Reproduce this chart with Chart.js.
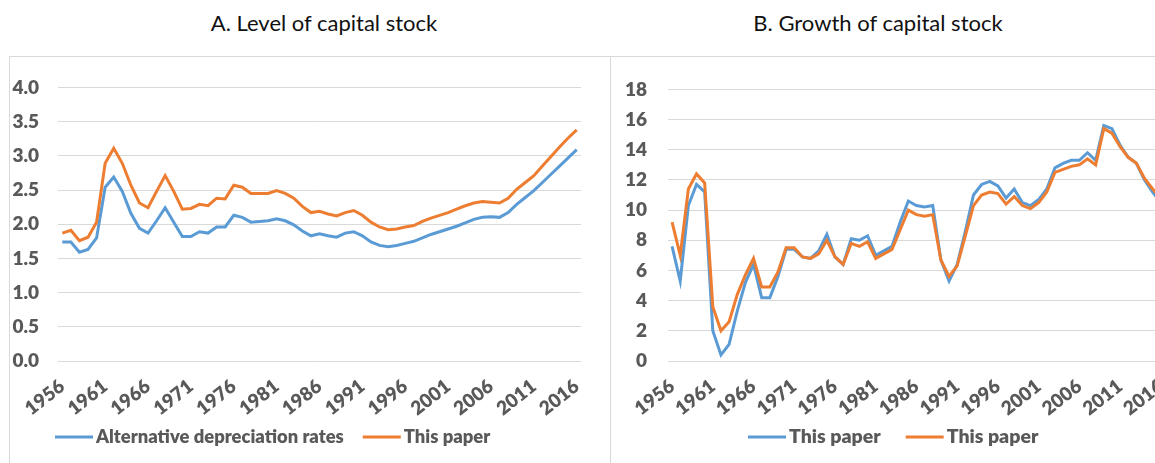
<!DOCTYPE html>
<html>
<head>
<meta charset="utf-8">
<script src="https://cdn.jsdelivr.net/npm/chart.js@4.4.1/dist/chart.umd.min.js"></script>
<style>
  html, body { margin: 0; padding: 0; background: #fff; }
  body { width: 1155px; height: 463px; overflow: hidden; position: relative; font-family: Lato, sans-serif; }
  .title { position: absolute; top: 9px; font-size: 22px; color: #111; text-align: center; white-space: nowrap; }
  .panel { position: absolute; top: 56px; height: 420px; border-top: 1px solid #d9d9d9; border-left: 1px solid #d9d9d9; }
  canvas { position: absolute; }
</style>
</head>
<body>
<div class="title" style="left:124px;width:400px">A. Level of capital stock</div>
<div class="title" style="left:678px;width:400px">B. Growth of capital stock</div>
<div class="panel" style="left:9px;width:601px"></div>
<div class="panel" style="left:610px;width:600px"></div>
<canvas id="levelChart" style="left:10px;top:57px"></canvas>
<canvas id="growthChart" style="left:611px;top:57px"></canvas>
<script>
const years = Array.from({ length: 61 }, (_, i) => String(1956 + i));

// Panel A: level of capital stock
const levelAlt = [
  1.74, 1.74, 1.59, 1.63, 1.80, 2.54, 2.69, 2.48, 2.16, 1.94,
  1.87, 2.05, 2.24, 2.03, 1.82, 1.82, 1.89, 1.87, 1.96, 1.96,
  2.13, 2.10, 2.03, 2.04, 2.05, 2.08, 2.05, 1.99, 1.90, 1.83,
  1.86, 1.83, 1.81, 1.87, 1.89, 1.83, 1.74, 1.69, 1.67, 1.69,
  1.72, 1.75, 1.80, 1.85, 1.89, 1.93, 1.97, 2.02, 2.07, 2.10,
  2.11, 2.10, 2.17, 2.29, 2.39, 2.49, 2.61, 2.73, 2.85, 2.97,
  3.09
];
const levelPaper = [
  1.87, 1.91, 1.76, 1.81, 2.03, 2.89, 3.11, 2.89, 2.57, 2.31,
  2.24, 2.48, 2.71, 2.48, 2.22, 2.23, 2.29, 2.27, 2.38, 2.37,
  2.57, 2.54, 2.45, 2.45, 2.45, 2.49, 2.45, 2.38, 2.26, 2.17,
  2.19, 2.15, 2.12, 2.17, 2.20, 2.13, 2.03, 1.96, 1.92, 1.93,
  1.96, 1.98, 2.04, 2.09, 2.13, 2.17, 2.22, 2.27, 2.31, 2.33,
  2.32, 2.31, 2.38, 2.51, 2.61, 2.71, 2.85, 2.99, 3.13, 3.26,
  3.38
];

// Panel B: growth of capital stock (%)
const growthAlt = [
  7.6, 5.3, 10.3, 11.7, 11.2, 2.0, 0.4, 1.1, 3.3, 5.2,
  6.4, 4.2, 4.2, 5.6, 7.4, 7.4, 6.9, 6.8, 7.3, 8.4,
  6.9, 6.4, 8.1, 8.0, 8.3, 7.0, 7.3, 7.6, 9.2, 10.6,
  10.3, 10.2, 10.3, 6.7, 5.3, 6.4, 8.6, 11.0, 11.7, 11.9,
  11.6, 10.8, 11.4, 10.5, 10.3, 10.7, 11.4, 12.8, 13.1, 13.3,
  13.3, 13.8, 13.3, 15.6, 15.4, 14.3, 13.5, 13.1, 12.0, 11.2,
  10.5
];
const growthPaper = [
  9.2, 7.0, 11.4, 12.4, 11.8, 3.6, 2.0, 2.6, 4.4, 5.7,
  6.8, 4.9, 4.9, 5.9, 7.5, 7.5, 6.9, 6.8, 7.1, 8.0,
  6.9, 6.4, 7.8, 7.6, 7.9, 6.8, 7.1, 7.4, 8.7, 10.0,
  9.7, 9.6, 9.7, 6.7, 5.6, 6.3, 8.3, 10.3, 11.0, 11.2,
  11.1, 10.4, 10.9, 10.3, 10.1, 10.5, 11.2, 12.5, 12.7, 12.9,
  13.0, 13.4, 13.0, 15.4, 15.1, 14.2, 13.5, 13.1, 12.1, 11.4,
  10.8
];

const BLUE = '#5B9BD5';
const ORANGE = '#ED7D31';
const TICK_COLOR = '#595959';
const FONT = 'Lato';
const WEIGHT = 800;

// short line sample + label for each dataset, placed under the axis labels
const lineLegend = {
  id: 'lineLegend',
  afterDraw(chart, args, opts) {
    const ctx = chart.ctx;
    ctx.save();
    ctx.font = WEIGHT + ' ' + opts.size + 'px ' + FONT;
    ctx.textBaseline = 'middle';
    let x = opts.x;
    chart.data.datasets.forEach(ds => {
      ctx.strokeStyle = ds.borderColor;
      ctx.lineWidth = 3;
      ctx.beginPath();
      ctx.moveTo(x, opts.y);
      ctx.lineTo(x + 38, opts.y);
      ctx.stroke();
      x += 41;
      ctx.fillStyle = TICK_COLOR;
      ctx.fillText(ds.label, x, opts.y);
      x += ctx.measureText(ds.label).width + opts.spacing;
    });
    ctx.restore();
  }
};

function makeChart(id, w, h, labels, sets, yOpts, area) {
  const canvas = document.getElementById(id);
  canvas.width = w;
  canvas.height = h;
  return new Chart(canvas, {
    type: 'line',
    data: {
      labels: labels,
      datasets: sets.map((s, i) => ({
        label: s.label,
        data: s.data,
        borderColor: s.color,
        backgroundColor: s.color,
        borderWidth: 3,
        pointRadius: 0,
        tension: 0,
        order: sets.length - i
      }))
    },
    options: {
      responsive: false,
      animation: false,
      layout: { padding: { top: area.top, right: area.right, left: 0, bottom: 0 } },
      plugins: {
        legend: { display: false },
        tooltip: { enabled: false },
        lineLegend: area.legend
      },
      scales: {
        x: {
          offset: true,
          grid: { display: false, drawTicks: false },
          border: { display: false },
          afterFit: scale => { scale.height = area.xHeight; },
          ticks: {
            autoSkip: false,
            minRotation: 38,
            maxRotation: 38,
            padding: 14,
            color: TICK_COLOR,
            font: { family: FONT, size: 19, weight: WEIGHT },
            callback: function (v, i) { return i % 5 === 0 ? this.getLabelForValue(v) : ''; }
          }
        },
        y: {
          min: yOpts.min,
          max: yOpts.max,
          grid: { color: '#d9d9d9', lineWidth: 1, drawTicks: false },
          border: { display: false },
          afterFit: scale => { scale.width = area.yWidth; },
          ticks: {
            stepSize: yOpts.step,
            padding: area.yPad,
            color: TICK_COLOR,
            font: { family: FONT, size: 19, weight: WEIGHT },
            callback: v => yOpts.digits ? v.toFixed(yOpts.digits) : v
          }
        }
      }
    },
    plugins: [lineLegend]
  });
}

makeChart('levelChart', 600, 406, years, [
  { label: 'Alternative depreciation rates', data: levelAlt, color: BLUE },
  { label: 'This paper', data: levelPaper, color: ORANGE }
], { min: 0, max: 4, step: 0.5, digits: 1 },
{ top: 12, right: 29, xHeight: 102, yWidth: 48, yPad: 19,
  legend: { x: 45, y: 380, size: 18.4, spacing: 19 } });

// the right-hand panel runs past the window edge, as in the printed figure
makeChart('growthChart', 578, 406, years, [
  { label: 'This paper', data: growthAlt, color: BLUE },
  { label: 'This paper', data: growthPaper, color: ORANGE }
], { min: 0, max: 18, step: 2, digits: 0 },
{ top: 24, right: 17, xHeight: 102, yWidth: 57, yPad: 21,
  legend: { x: 137, y: 380, size: 19.5, spacing: 25 } });
</script>
</body>
</html>
